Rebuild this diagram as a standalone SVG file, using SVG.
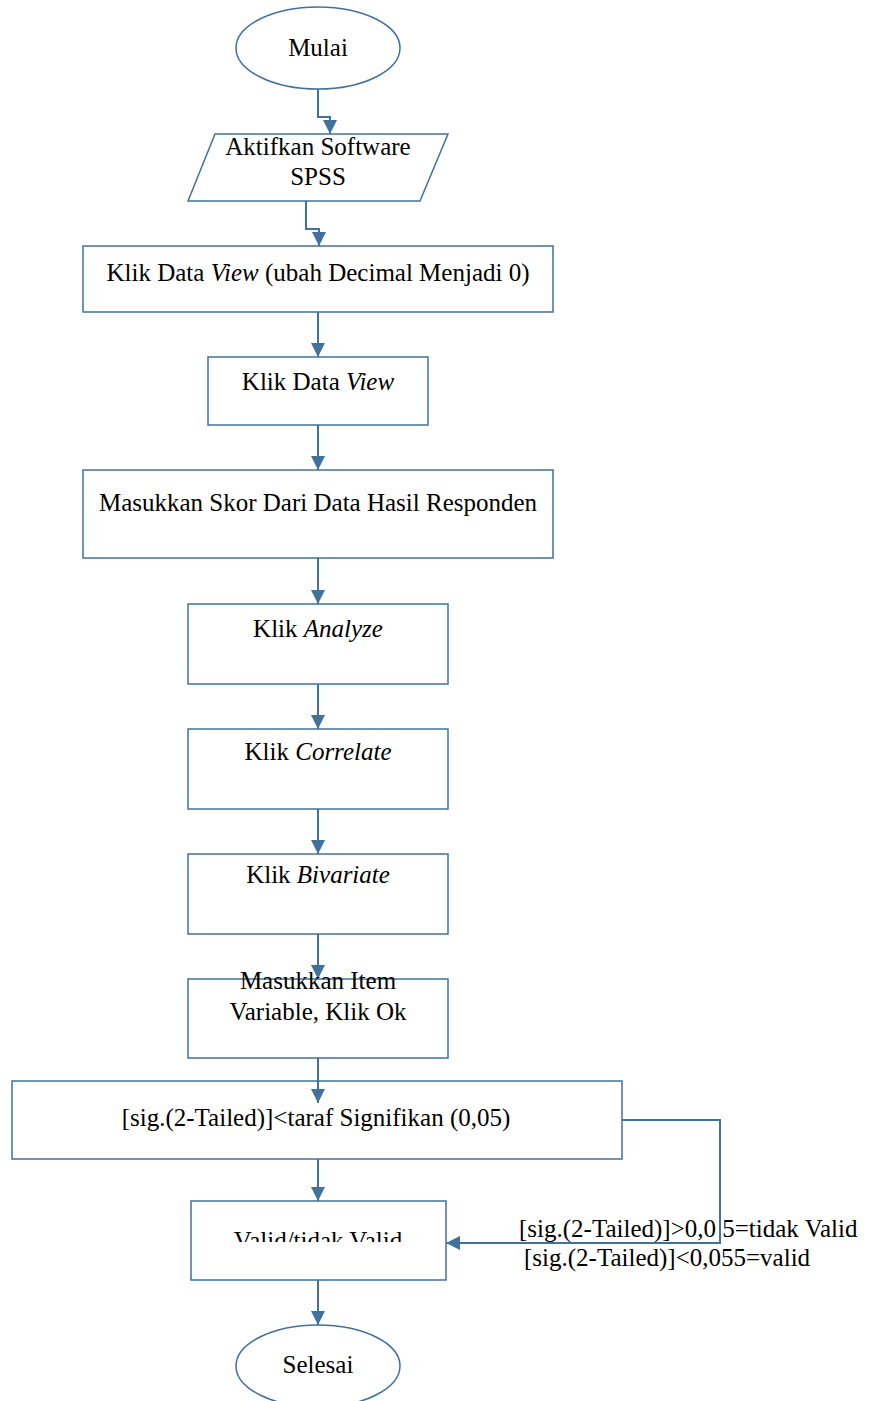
<svg xmlns="http://www.w3.org/2000/svg" width="869" height="1401" viewBox="0 0 869 1401">
<style>
.s{fill:#fff;stroke:#41719C;stroke-width:1.5}
.c{fill:none;stroke:#41719C;stroke-width:2}
.t{font-family:"Liberation Serif","Times New Roman",serif;font-size:25px;fill:#000;text-anchor:middle}
.l{font-family:"Liberation Serif","Times New Roman",serif;font-size:25px;fill:#000}
</style>
<defs>
<marker id="ah" viewBox="0 0 14 14" refX="14" refY="7" markerWidth="14" markerHeight="14" orient="auto" markerUnits="userSpaceOnUse">
<path d="M0,0 L14,7 L0,14 Z" fill="#41719C"/>
</marker>
<clipPath id="vc"><rect x="190" y="1200" width="260" height="42"/></clipPath>
</defs>
<g id="connectors">
<path class="c" d="M318,89 V117 H330 V134" marker-end="url(#ah)"/>
<path class="c" d="M306,201 V229 H319 V246" marker-end="url(#ah)"/>
<path class="c" d="M318,312 V357" marker-end="url(#ah)"/>
<path class="c" d="M318,425 V470" marker-end="url(#ah)"/>
<path class="c" d="M318,558 V604" marker-end="url(#ah)"/>
<path class="c" d="M318,684 V729" marker-end="url(#ah)"/>
<path class="c" d="M318,809 V854" marker-end="url(#ah)"/>
<path class="c" d="M318,934 V979" marker-end="url(#ah)"/>
<path class="c" d="M318,1159 V1201" marker-end="url(#ah)"/>
<path class="c" d="M318,1280 V1325" marker-end="url(#ah)"/>
<path class="c" d="M622,1120 H720 V1243 H446" marker-end="url(#ah)"/>
</g>
<g id="mulai"><ellipse class="s" cx="318" cy="48" rx="82" ry="41"/><text class="t" x="318" y="56">Mulai</text></g>
<g id="aktifkan"><polygon class="s" points="215,134 448,134 420,201 188,201"/><text class="t" x="318" y="155">Aktifkan Software</text><text class="t" x="318" y="185">SPSS</text></g>
<g id="datav1"><rect class="s" x="83" y="246" width="470" height="66"/><text class="t" x="318" y="281">Klik Data <tspan font-style="italic">View</tspan> (ubah Decimal Menjadi 0)</text></g>
<g id="datav2"><rect class="s" x="208" y="357" width="220" height="68"/><text class="t" x="318" y="390">Klik Data <tspan font-style="italic">View</tspan></text></g>
<g id="skor"><rect class="s" x="83" y="470" width="470" height="88"/><text class="t" x="318" y="511">Masukkan Skor Dari Data Hasil Responden</text></g>
<g id="analyze"><rect class="s" x="188" y="604" width="260" height="80"/><text class="t" x="318" y="637">Klik <tspan font-style="italic">Analyze</tspan></text></g>
<g id="correlate"><rect class="s" x="188" y="729" width="260" height="80"/><text class="t" x="318" y="760">Klik <tspan font-style="italic">Correlate</tspan></text></g>
<g id="bivariate"><rect class="s" x="188" y="854" width="260" height="80"/><text class="t" x="318" y="883">Klik <tspan font-style="italic">Bivariate</tspan></text></g>
<g id="item"><rect class="s" x="188" y="979" width="260" height="79"/><text class="t" x="318" y="989">Masukkan Item</text><text class="t" x="318" y="1020">Variable, Klik Ok</text></g>
<g id="sig"><rect class="s" x="12" y="1081" width="610" height="78"/><text class="t" x="316" y="1126">[sig.(2-Tailed)]&lt;taraf Signifikan (0,05)</text></g>
<path class="c" d="M318,1058 V1103" marker-end="url(#ah)"/>
<g id="valid"><rect class="s" x="191" y="1201" width="255" height="79"/><text class="t" x="318" y="1249" clip-path="url(#vc)">Valid/tidak Valid</text></g>
<g id="selesai"><ellipse class="s" cx="318" cy="1366" rx="82" ry="41"/><text class="t" x="318" y="1373">Selesai</text></g>
<g id="labels"><text class="l" x="519" y="1237">[sig.(2-Tailed)]&gt;0,0 5=tidak Valid</text><text class="l" x="524" y="1266">[sig.(2-Tailed)]&lt;0,055=valid</text></g>
</svg>
